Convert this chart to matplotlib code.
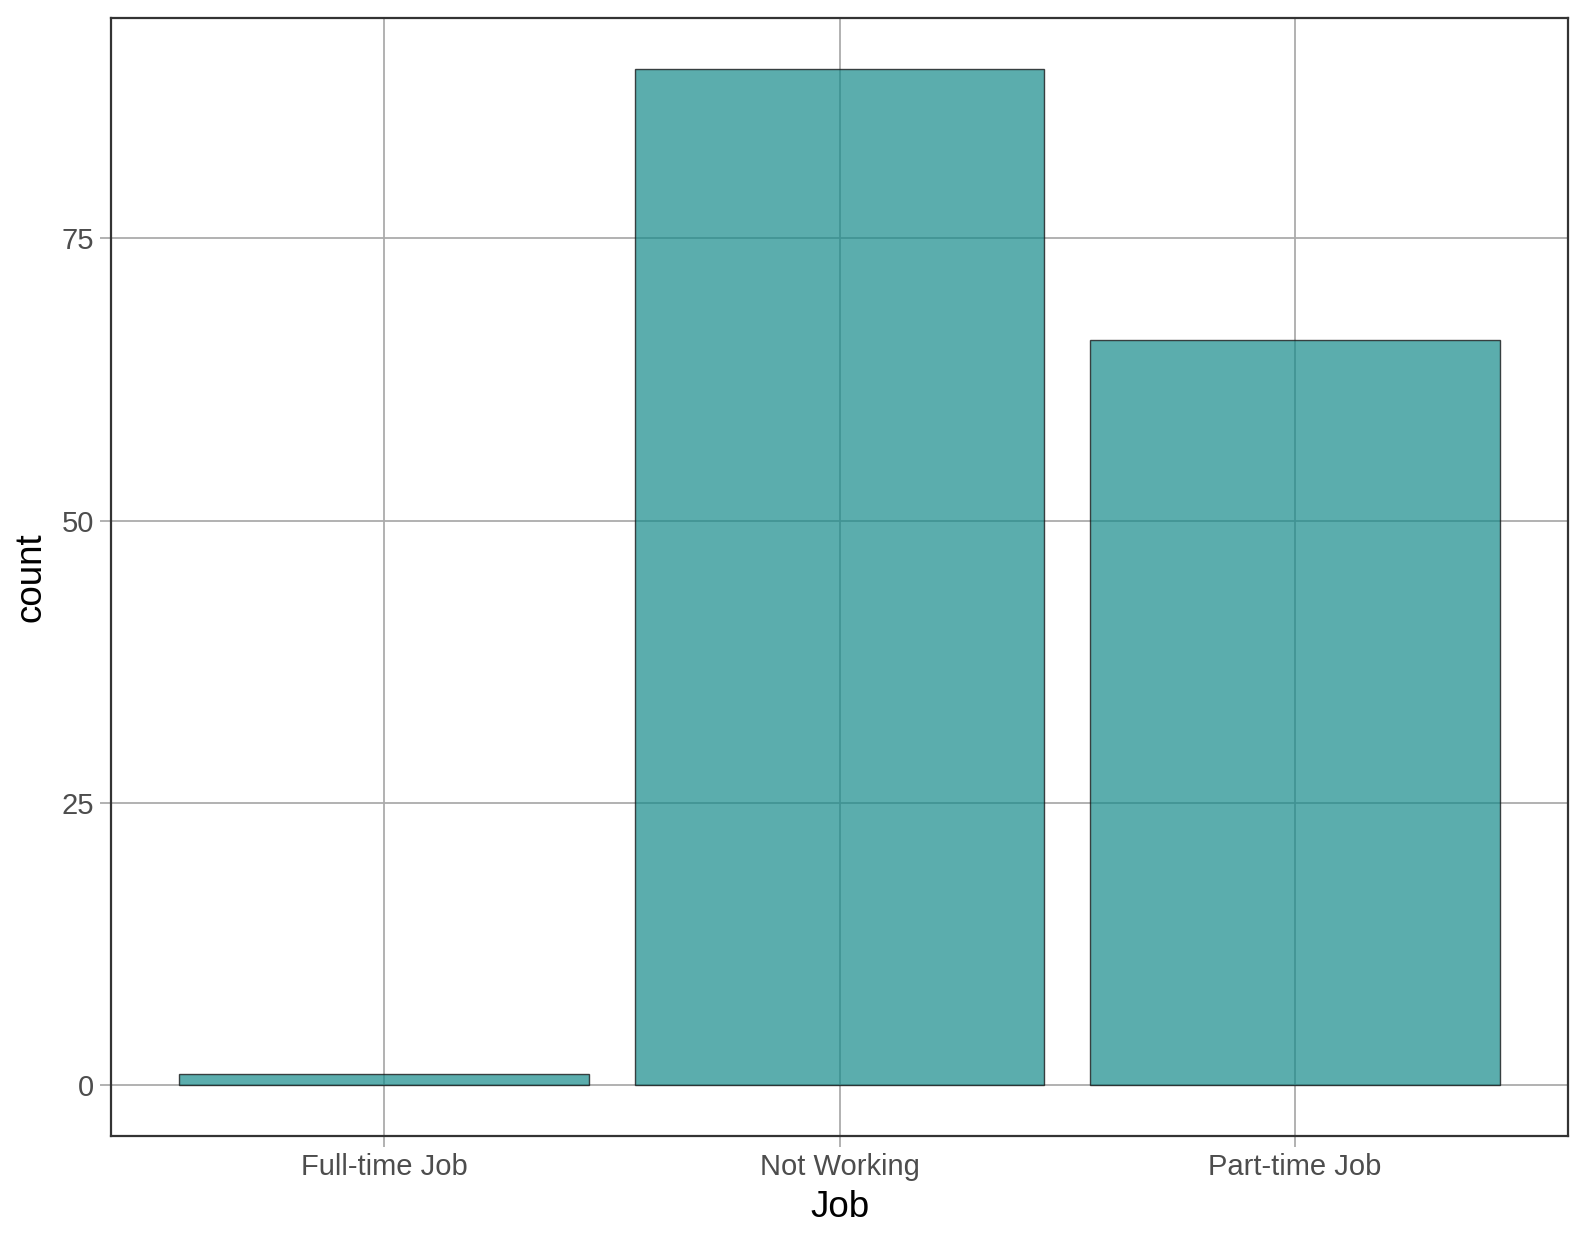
import matplotlib
matplotlib.use("Agg")
import matplotlib.pyplot as plt

jobs = ["Full-time Job", "Not Working", "Part-time Job"]
counts = [1, 90, 66]

plt.rcParams["font.family"] = ["Liberation Sans", "DejaVu Sans"]

fig = plt.figure(figsize=(15.87, 12.42), dpi=100)
ax = fig.add_axes([0.0700, 0.0853, 0.918, 0.9002])

x = list(range(1, len(jobs) + 1))
ax.bar(
    x,
    counts,
    width=0.9,
    color=(21 / 255, 138 / 255, 139 / 255, 0.7),
    edgecolor=(0.1, 0.1, 0.1, 0.8),
    linewidth=1.0,
    zorder=2
)

ax.set_xlim(0.4, 3.6)
ax.set_ylim(-4.5, 94.5)
ax.set_xticks(x)
ax.set_xticklabels(jobs)
ax.set_yticks([0, 25, 50, 75])

ax.grid(True, color="#ababab", linewidth=1.3, zorder=1)
ax.set_axisbelow(True)

for s in ax.spines.values():
    s.set_color("#333333")
    s.set_linewidth(1.6)

ax.tick_params(
    axis="both",
    length=8,
    width=1.3,
    color="#ababab",
    labelsize=21,
    labelcolor="#4d4d4d",
    pad=4
)

ax.set_xlabel("Job", fontsize=26.5, color="black", labelpad=7)
ax.set_ylabel("count", fontsize=26.5, color="black", labelpad=10)

fig.savefig("out.png", dpi=100)
plt.close()
